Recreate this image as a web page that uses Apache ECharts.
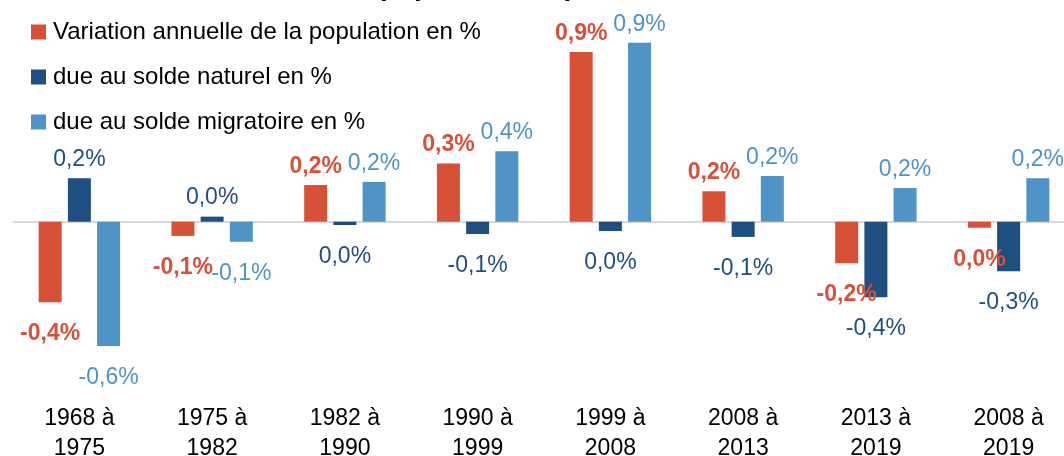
<!DOCTYPE html>
<html>
<head>
<meta charset="utf-8">
<script src="https://cdn.jsdelivr.net/npm/echarts@6/dist/echarts.min.js"></script>
<style>
html,body{margin:0;padding:0;background:#fff;}
#main{width:1064px;height:456px;}
</style>
</head>
<body>
<div id="main"></div>
<script>
// données (variation annuelle moyenne, en %)
var periodes = ['1968 à\n1975','1975 à\n1982','1982 à\n1990','1990 à\n1999','1999 à\n2008','2008 à\n2013','2013 à\n2019','2008 à\n2019'];
var variation = [-0.413, -0.073, 0.188, 0.299, 0.870, 0.156, -0.213, -0.031];
var soldeNaturel = [0.223, 0.026, -0.017, -0.063, -0.048, -0.078, -0.388, -0.254];
var soldeMigratoire = [-0.637, -0.103, 0.204, 0.361, 0.918, 0.234, 0.173, 0.223];
var nomsSeries = ['Variation annuelle de la population en %','due au solde naturel en %','due au solde migratoire en %'];
var couleurs = ['#D65138','#1F4E80','#4E94C6'];

var police = 'Liberation Sans';

function fmt(v){
	var r = Math.round(v*10)/10;
	if(r === 0) r = 0;
	return r.toFixed(1).replace('.', ',') + '%';
}

// étiquettes au-dessus / en dessous selon le signe
function items(values){
	var out = [];
	for(var i=0;i<values.length;i++){
		out.push({
			value: values[i],
			label: { distance: values[i] >= 0 ? 7 : 20 }
		});
	}
	return out;
}

function serie(idx, values, bold){
	var s = {
		name: nomsSeries[idx],
		type: 'bar',
		barWidth: 23,
		barGap: '27%',
		data: items(values),
		itemStyle: { color: couleurs[idx] },
		label: {
			show: true,
			position: 'outside',
			color: couleurs[idx],
			fontFamily: police,
			fontSize: 23,
			fontWeight: bold ? 'bold' : 'normal',
			formatter: function(p){ return fmt(p.value); }
		}
	};
	return s;
}

var myChart = echarts.init(document.getElementById('main'));

var series = [
	serie(0, variation, true),
	serie(1, soldeNaturel, false),
	serie(2, soldeMigratoire, false)
];
// ligne du zéro
series[0].markLine = {
	silent: true,
	symbol: 'none',
	label: { show: false },
	lineStyle: { color: '#D9D9D9', width: 2, type: 'solid' },
	data: [{ yAxis: 0 }],
	z: 1
};

var options = {
	animation: false,
	title: {
		text: 'Évolution de la population depuis 1968',
		left: 168,
		top: -32,
		textStyle: { fontFamily: police, fontSize: 28, fontWeight: 'bold', color: '#000' }
	},
	legend: {
		orient: 'vertical',
		left: 26,
		top: 15,
		itemWidth: 15,
		itemHeight: 15,
		itemGap: 21,
		icon: 'rect',
		data: nomsSeries,
		textStyle: { fontFamily: police, fontSize: 24, color: '#000', padding: [0,0,0,2] }
	},
	grid: {
		left: 13,
		right: -11,
		top: 26.7,
		bottom: 58.8,
		containLabel: false,
		outerBoundsMode: 'none'
	},
	xAxis: {
		type: 'category',
		data: periodes,
		axisLine: { show: false, onZero: false },
		axisTick: { show: false },
		axisLabel: {
			margin: 6,
			fontFamily: police,
			fontSize: 23,
			lineHeight: 30,
			color: '#000'
		}
	},
	yAxis: {
		type: 'value',
		min: -0.9,
		max: 1.0,
		show: false,
		splitLine: { show: false }
	},
	series: series
};

myChart.setOption(options);
</script>
</body>
</html>
